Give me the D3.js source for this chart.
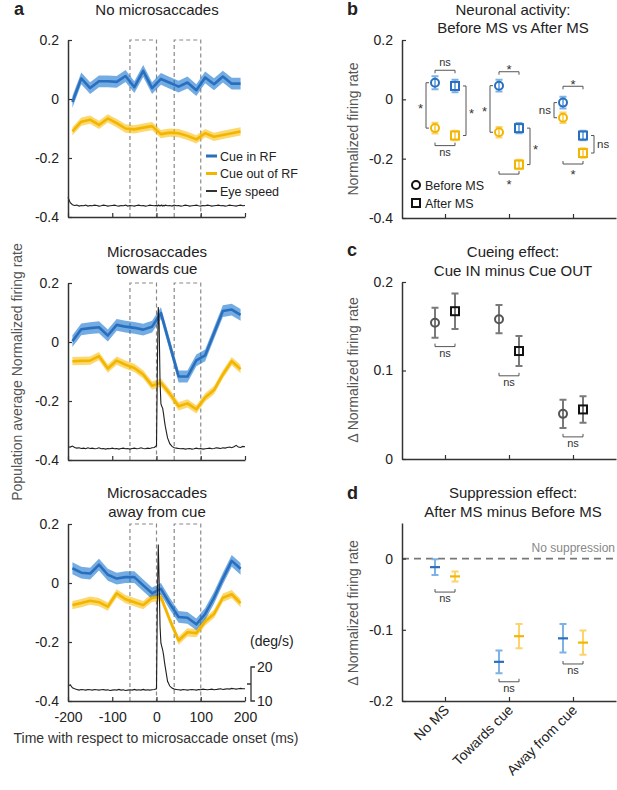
<!DOCTYPE html>
<html>
<head>
<meta charset="utf-8">
<script src="https://cdn.jsdelivr.net/npm/d3@7"></script>
<style>
  body { margin: 0; background: #fff; }
  text { font-family: "Liberation Sans", Arial, Helvetica, sans-serif; }
</style>
</head>
<body>
<svg id="fig" width="617" height="790"></svg>
<script>
// ---------- data : panel a ----------
const binTimes = [-190,-170,-150,-130,-110,-90,-70,-50,-30,-10,10,30,50,70,90,110,130,150,170,190];

const blueNoMS = [-0.01,0.07,0.037,0.06,0.06,0.058,0.078,0.04,0.095,0.037,0.068,0.055,0.042,0.056,0.03,0.073,0.05,0.076,0.052,0.052];
const yellowNoMS = [-0.11,-0.077,-0.07,-0.088,-0.066,-0.082,-0.1,-0.103,-0.097,-0.092,-0.119,-0.114,-0.116,-0.125,-0.137,-0.116,-0.128,-0.122,-0.116,-0.11];

const blueToward = [0.003,0.043,0.047,0.05,0.022,0.058,0.052,0.048,0.042,0.052,0.098,-0.01,-0.117,-0.117,-0.062,-0.045,0.03,0.105,0.11,0.092];
const yellowToward = [-0.065,-0.064,-0.063,-0.048,-0.09,-0.063,-0.077,-0.088,-0.11,-0.148,-0.138,-0.175,-0.218,-0.208,-0.228,-0.188,-0.163,-0.11,-0.065,-0.092];

const blueAway = [0.05,0.035,0.032,0.062,0.028,0.015,0.02,0.02,-0.008,-0.035,-0.02,-0.07,-0.115,-0.118,-0.14,-0.105,-0.05,0.015,0.075,0.048];
const yellowAway = [-0.075,-0.068,-0.06,-0.065,-0.08,-0.035,-0.055,-0.065,-0.075,-0.05,-0.048,-0.125,-0.195,-0.167,-0.17,-0.13,-0.105,-0.05,-0.038,-0.068];

// s.e.m. of the shaded bands (no MS, towards, away)
const semBlue = [0.02, 0.02, 0.02];
const semYellow = [0.014, 0.014, 0.014];

// eye speed (deg/s)
const speedTimes = [-200,-195,-190,-185,-180,-175,-170,-165,-160,-155,-150,-145,-140,-135,-130,-125,-120,-115,-110,-105,
  -100,-95,-90,-85,-80,-75,-70,-65,-60,-55,-50,-45,-40,-35,-30,-25,-20,-15,-10,-5,
  0,2,4,6,8,10,12,14,16,18,20,
  25,30,35,40,45,50,55,60,65,70,75,80,85,90,95,100,105,110,115,120,125,130,135,140,145,150,155,160,165,170,175,180,185,190,195,200];

const speedNoMS = [15.8,14.2,13.6,13.4,13.5,13.2,13.4,13.3,13.5,13.2,13.4,13.3,13.5,13.4,13.2,13.3,13.5,13.4,13.2,13.3,
  13.4,13.5,13.3,13.2,13.4,13.3,13.5,13.2,13.4,13.3,13.2,13.4,13.5,13.3,13.4,13.2,13.3,13.5,13.4,13.3,
  13.4,13.2,13.5,13.3,13.4,13.3,13.5,13.2,13.4,13.3,13.5,
  13.3,13.4,13.2,13.5,13.3,13.4,13.2,13.3,13.5,13.4,13.2,13.3,13.4,13.5,13.3,13.2,13.4,13.3,13.5,13.4,
  13.2,13.3,13.4,13.5,13.3,13.4,13.2,13.3,13.5,13.4,13.3,13.2,13.4,13.5,13.3,13.4];

const speedToward = [13.9,13.8,14.1,13.7,13.5,13.6,13.4,13.5,13.3,13.6,13.4,13.5,13.3,13.4,13.6,13.3,13.4,13.2,13.4,13.3,
  13.5,13.3,13.4,13.2,13.4,13.5,13.3,13.4,13.2,13.4,13.5,13.3,13.4,13.6,13.4,13.3,13.5,13.4,13.6,13.7,
  14.2,38,55,50,33,26.5,25.8,25.2,23.5,21.5,19.8,
  16.5,14.8,14.0,13.6,13.5,13.4,13.3,13.4,13.2,13.3,13.4,13.2,13.3,13.5,13.3,13.4,13.2,13.3,13.4,13.5,
  13.3,13.4,13.6,13.5,13.4,13.6,13.5,13.7,13.8,13.6,13.9,14.3,13.8,13.7,14.0,13.9];

const speedAway = [14.3,14.8,13.9,13.6,13.4,13.2,13.4,13.3,13.2,13.4,13.3,13.2,13.4,13.3,13.2,13.3,13.4,13.2,13.3,13.1,
  13.2,13.3,13.2,13.4,13.2,13.3,13.1,13.2,13.3,13.2,13.4,13.2,13.3,13.2,13.4,13.2,13.3,13.2,13.3,13.4,
  13.6,40,56,45,32,27,26,25,23.5,21.5,19.8,
  15.8,14.4,13.8,13.5,13.4,13.3,13.2,13.4,13.3,13.2,13.3,13.4,13.3,13.2,13.4,13.3,13.5,13.4,13.3,13.4,
  13.5,13.3,13.4,13.5,13.6,13.4,13.5,13.6,13.5,13.7,13.6,13.5,13.6,13.7,13.6,13.6];

const analysisWindows = [[-60, 0], [40, 100]];
const timeTicks = [-200, -100, 0, 100, 200];
const rateTicks = [-0.4, -0.2, 0, 0.2];

// ---------- data : panels b, c, d ----------
const categories = ["No MS", "Towards cue", "Away from cue"];

const beforeBlue = [0.056, 0.046, -0.011], beforeBlueErr = [0.022, 0.02, 0.02];
const afterBlue = [0.045, -0.097, -0.122], afterBlueErr = [0.021, 0.017, 0.016];
const beforeYellow = [-0.097, -0.111, -0.062], beforeYellowErr = [0.018, 0.018, 0.018];
const afterYellow = [-0.122, -0.22, -0.181], afterYellowErr = [0.016, 0.016, 0.016];

const sigTopB = ["ns", "*", "*"], sigTopLevelB = [0.098, 0.093, 0.044];
const sigBottomB = ["ns", "*", "*"], sigBottomLevelB = [-0.156, -0.252, -0.218];
const sigLeftB = ["*", "*", "ns"];
const sigRightB = ["*", "*", "ns"];

const cueBefore = [0.154, 0.158, 0.051], cueBeforeErr = [0.017, 0.016, 0.016];
const cueAfter = [0.167, 0.122, 0.056], cueAfterErr = [0.02, 0.017, 0.015];
const sigC = ["ns", "ns", "ns"], sigLevelC = [0.127, 0.094, 0.025];

const supBlue = [-0.012, -0.145, -0.112], supBlueErr = [0.011, 0.016, 0.02];
const supYellow = [-0.025, -0.109, -0.118], supYellowErr = [0.007, 0.017, 0.017];
const sigD = ["ns", "ns", "ns"], sigLevelD = [-0.047, -0.173, -0.148];

// ---------- styles ----------
const FONT = '"Liberation Sans", Arial, Helvetica, sans-serif';
const blueLine = "#2a6fbe", blueBand = "#0d6ecf", blueErr = "#7db2e6";
const yelLine = "#f3b600", yelBand = "#fabc07", yelErr = "#fcd46b";
const ink = "#222";

const svg = d3.select("#fig");
svg.append("rect").attr("width", 617).attr("height", 790).attr("fill", "#fff");

const fmt = d => (d === 0 ? "0" : String(d));

function styleAxis(sel) {
  sel.attr("font-family", FONT).attr("font-size", 14);
  sel.select(".domain").attr("stroke", "#333").attr("stroke-width", 1.5);
  sel.selectAll(".tick line").attr("stroke", "#333").attr("stroke-width", 1.2);
  sel.selectAll(".tick text").attr("fill", ink);
}

function label(g, x, y, txt, size, opts) {
  opts = opts || {};
  return g.append("text")
    .attr("x", x).attr("y", y)
    .attr("text-anchor", opts.anchor || "middle")
    .attr("font-size", size)
    .attr("font-weight", opts.bold ? "bold" : null)
    .attr("fill", opts.fill || ink)
    .attr("transform", opts.rotate ? "rotate(" + opts.rotate + "," + x + "," + y + ")" : null)
    .text(txt);
}

// ================= panel a =================
const xA = d3.scaleLinear().domain([-200, 200]).range([68, 245]);
const panelsA = [
  { title: ["No microsaccades"], titleY: [15], blue: blueNoMS, yellow: yellowNoMS, speed: speedNoMS, top: 40 },
  { title: ["Microsaccades", "towards cue"], titleY: [257, 274], blue: blueToward, yellow: yellowToward, speed: speedToward, top: 283 },
  { title: ["Microsaccades", "away from cue"], titleY: [498, 517], blue: blueAway, yellow: yellowAway, speed: speedAway, top: 524 }
];
const panelH = 177;

label(svg, 14, 15, "a", 18, { bold: true, anchor: "start" });

panelsA.forEach((p, i) => {
  const g = svg.append("g");
  const y = d3.scaleLinear().domain([-0.4, 0.2]).range([p.top + panelH, p.top]);
  const ys = d3.scaleLinear().domain([10, 20]).range([y(-0.4), y(-0.4) - 34]);

  p.title.forEach((t, k) => label(g, 157, p.titleY[k], t, 15));

  // analysis windows
  analysisWindows.forEach(w => {
    g.append("path")
      .attr("d", "M" + xA(w[0]) + "," + y(-0.4) + "V" + y(0.2) + "H" + xA(w[1]) + "V" + y(-0.4))
      .attr("fill", "none").attr("stroke", "#8a8a8a").attr("stroke-width", 1.2)
      .attr("stroke-dasharray", "4,3");
  });

  const series = [
    { vals: p.yellow, sem: semYellow[i], band: yelBand, line: yelLine },
    { vals: p.blue, sem: semBlue[i], band: blueBand, line: blueLine }
  ];
  const area = sem => d3.area().x((d, k) => xA(binTimes[k])).y0(d => y(d - sem)).y1(d => y(d + sem));
  const line = d3.line().x((d, k) => xA(binTimes[k])).y(d => y(d));

  series.forEach(s => {
    g.append("path").datum(s.vals).attr("d", area(s.sem)).attr("fill", s.band).attr("fill-opacity", 0.58);
  });
  [series[1], series[0]].forEach(s => {
    g.append("path").datum(s.vals).attr("d", line).attr("fill", "none")
      .attr("stroke", s.line).attr("stroke-width", 2.6).attr("stroke-linejoin", "round");
  });

  // eye speed
  g.append("path").datum(p.speed)
    .attr("d", d3.line().x((d, k) => xA(speedTimes[k])).y(d => ys(d)))
    .attr("fill", "none").attr("stroke", "#1e1e1e").attr("stroke-width", 1.1);

  // axes
  g.append("g").attr("transform", "translate(68,0)")
    .call(d3.axisLeft(y).tickValues(rateTicks).tickSize(-4).tickSizeOuter(0).tickPadding(9).tickFormat(fmt))
    .call(styleAxis);
  g.append("g").attr("transform", "translate(0," + y(-0.4) + ")")
    .call(d3.axisBottom(xA).tickValues(timeTicks).tickSize(-4).tickSizeOuter(0).tickPadding(11)
      .tickFormat(i === 2 ? fmt : () => ""))
    .call(styleAxis);

  if (i === 0) {
    const leg = [["Cue in RF", blueLine, 3], ["Cue out of RF", yelLine, 3], ["Eye speed", "#333", 2]];
    leg.forEach((d, k) => {
      const ly = 156 + k * 17.5;
      g.append("rect").attr("x", 206).attr("y", ly - d[2] / 2).attr("width", 11).attr("height", d[2]).attr("fill", d[1]);
      label(g, 220, ly + 4.5, d[0], 12.5, { anchor: "start" });
    });
  }
  if (i === 2) {
    // speed scale bar
    const sx = 251;
    g.append("path")
      .attr("d", "M" + (sx + 4) + "," + ys(20) + "H" + sx + "V" + ys(10) + "H" + (sx + 4) +
        "M" + sx + "," + ys(15) + "H" + (sx - 4))
      .attr("fill", "none").attr("stroke", "#333").attr("stroke-width", 1.3);
    label(g, sx + 6, ys(20) + 5, "20", 14, { anchor: "start" });
    label(g, sx + 6, ys(10) + 5, "10", 14, { anchor: "start" });
    label(g, 250, 646, "(deg/s)", 14, { anchor: "start" });
  }
});

label(svg, 22, 372, "Population average Normalized firing rate", 14, { rotate: -90, fill: "#555" });
label(svg, 156, 743, "Time with respect to microsaccade onset (ms)", 14, { fill: "#333" });

// ================= helpers for b, c, d =================
const xCat = d3.scaleLinear().domain([1 - 43 / 64, 3 + 43 / 64]).range([402, 616]);
const dOff = 10;

function errBar(g, x, yHi, yLo, color, cap, sw) {
  g.append("path")
    .attr("d", "M" + (x - cap / 2) + "," + yHi + "H" + (x + cap / 2) + "M" + x + "," + yHi + "V" + yLo +
      "M" + (x - cap / 2) + "," + yLo + "H" + (x + cap / 2))
    .attr("fill", "none").attr("stroke", color).attr("stroke-width", sw);
}

function marker(g, shape, x, yv, color) {
  if (shape === "circle") {
    g.append("circle").attr("cx", x).attr("cy", yv).attr("r", 4)
      .attr("fill", "none").attr("stroke", color).attr("stroke-width", 2);
  } else {
    g.append("rect").attr("x", x - 4).attr("y", yv - 4).attr("width", 8).attr("height", 8)
      .attr("fill", "none").attr("stroke", color).attr("stroke-width", 2);
  }
}

// horizontal bracket; above = bracket over the points, label above
function hBracket(g, x1, x2, yv, txt, above) {
  const t = above ? 3 : -3;
  g.append("path").attr("d", "M" + x1 + "," + (yv + t) + "V" + yv + "H" + x2 + "V" + (yv + t))
    .attr("fill", "none").attr("stroke", "#555").attr("stroke-width", 1);
  const star = txt === "*";
  const size = star ? 13 : 11;
  const ty = above ? (star ? yv + 2.5 : yv - 4) : (star ? yv + 14.5 : yv + 10);
  label(g, (x1 + x2) / 2, ty, txt, size, { fill: "#333" });
}

// vertical bracket; side -1 = label on the left
function vBracket(g, x, y1, y2, txt, side) {
  const t = -side * 3;
  g.append("path").attr("d", "M" + (x + t) + "," + y1 + "H" + x + "V" + y2 + "H" + (x + t))
    .attr("fill", "none").attr("stroke", "#555").attr("stroke-width", 1);
  const star = txt === "*";
  const ym = (y1 + y2) / 2;
  label(g, x + side * 3, ym + (star ? 7.5 : 4), txt, star ? 13 : 11.5,
    { anchor: side < 0 ? "end" : "start", fill: "#333" });
}

function catAxes(g, y, ticks, yBase) {
  g.append("g").attr("transform", "translate(402,0)")
    .call(d3.axisLeft(y).tickValues(ticks).tickSize(-4).tickSizeOuter(0).tickPadding(9).tickFormat(fmt))
    .call(styleAxis);
  g.append("g").attr("transform", "translate(0," + yBase + ")")
    .call(d3.axisBottom(xCat).tickValues([1, 2, 3]).tickSize(-4).tickSizeOuter(0).tickFormat(() => ""))
    .call(styleAxis);
}

// ================= panel b =================
{
  const g = svg.append("g");
  const y = d3.scaleLinear().domain([-0.4, 0.2]).range([218, 40]);
  label(g, 347, 15, "b", 18, { bold: true, anchor: "start" });
  label(g, 513, 15, "Neuronal activity:", 15);
  label(g, 513, 33, "Before MS vs After MS", 15);
  label(g, 358, 129, "Normalized firing rate", 14, { rotate: -90, fill: "#555" });

  categories.forEach((c, i) => {
    const cx = xCat(i + 1);
    const pts = [
      [cx - dOff, beforeBlue[i], beforeBlueErr[i], blueErr, blueLine, "circle"],
      [cx + dOff, afterBlue[i], afterBlueErr[i], blueErr, blueLine, "square"],
      [cx - dOff, beforeYellow[i], beforeYellowErr[i], yelErr, yelLine, "circle"],
      [cx + dOff, afterYellow[i], afterYellowErr[i], yelErr, yelLine, "square"]
    ];
    pts.forEach(p => errBar(g, p[0], y(p[1] + p[2]), y(p[1] - p[2]), p[3], 7, 2));
    pts.forEach(p => marker(g, p[5], p[0], y(p[1]), p[4]));

    hBracket(g, cx - dOff, cx + dOff, y(sigTopLevelB[i]), sigTopB[i], true);
    hBracket(g, cx - dOff, cx + dOff, y(sigBottomLevelB[i]), sigBottomB[i], false);
    vBracket(g, cx - 19, y(beforeBlue[i]), y(beforeYellow[i]), sigLeftB[i], -1);
    vBracket(g, cx + 21, y(afterBlue[i]), y(afterYellow[i]), sigRightB[i], 1);
  });

  marker(g, "circle", 416, 185, "#111");
  label(g, 425, 190, "Before MS", 12.5, { anchor: "start" });
  marker(g, "square", 416, 203, "#111");
  label(g, 425, 208, "After MS", 12.5, { anchor: "start" });

  catAxes(g, y, rateTicks, 218);
}

// ================= panel c =================
{
  const g = svg.append("g");
  const y = d3.scaleLinear().domain([0, 0.2]).range([459, 282]);
  label(g, 347, 256, "c", 18, { bold: true, anchor: "start" });
  label(g, 513, 257, "Cueing effect:", 15);
  label(g, 513, 276, "Cue IN minus Cue OUT", 15);
  label(g, 358, 370, "\u0394 Normalized firing rate", 14, { rotate: -90, fill: "#555" });

  categories.forEach((c, i) => {
    const cx = xCat(i + 1);
    errBar(g, cx - dOff, y(cueBefore[i] + cueBeforeErr[i]), y(cueBefore[i] - cueBeforeErr[i]), "#7a7a7a", 7, 2);
    errBar(g, cx + dOff, y(cueAfter[i] + cueAfterErr[i]), y(cueAfter[i] - cueAfterErr[i]), "#7a7a7a", 7, 2);
    marker(g, "circle", cx - dOff, y(cueBefore[i]), "#555");
    marker(g, "square", cx + dOff, y(cueAfter[i]), "#111");
    hBracket(g, cx - dOff, cx + dOff, y(sigLevelC[i]), sigC[i], false);
  });

  catAxes(g, y, [0, 0.1, 0.2], 459);
}

// ================= panel d =================
{
  const g = svg.append("g");
  const y = d3.scaleLinear().domain([-0.2, 0.05]).range([701, 523]);
  label(g, 347, 499, "d", 18, { bold: true, anchor: "start" });
  label(g, 513, 498, "Suppression effect:", 15);
  label(g, 513, 517, "After MS minus Before MS", 15);
  label(g, 358, 613, "\u0394 Normalized firing rate", 14, { rotate: -90, fill: "#555" });

  g.append("line").attr("x1", 402).attr("x2", 617).attr("y1", y(0)).attr("y2", y(0))
    .attr("stroke", "#777").attr("stroke-width", 1.6).attr("stroke-dasharray", "7,5");
  label(g, 615, y(0) - 7, "No suppression", 12, { anchor: "end", fill: "#888" });

  categories.forEach((c, i) => {
    const cx = xCat(i + 1);
    const pts = [
      [cx - dOff, supBlue[i], supBlueErr[i], blueErr, blueLine],
      [cx + dOff, supYellow[i], supYellowErr[i], yelErr, yelLine]
    ];
    pts.forEach(p => {
      errBar(g, p[0], y(p[1] + p[2]), y(p[1] - p[2]), p[3], 7, 2);
      g.append("line").attr("x1", p[0] - 5).attr("x2", p[0] + 5).attr("y1", y(p[1])).attr("y2", y(p[1]))
        .attr("stroke", p[4]).attr("stroke-width", 2.2);
    });
    hBracket(g, cx - dOff, cx + dOff, y(sigLevelD[i]), sigD[i], false);

    g.append("text")
      .attr("transform", "translate(" + (cx + 5) + ",711) rotate(-45)")
      .attr("text-anchor", "end").attr("font-size", 14).attr("fill", ink)
      .text(c);
  });

  catAxes(g, y, [-0.2, -0.1, 0], 701);
}
</script>
</body>
</html>
